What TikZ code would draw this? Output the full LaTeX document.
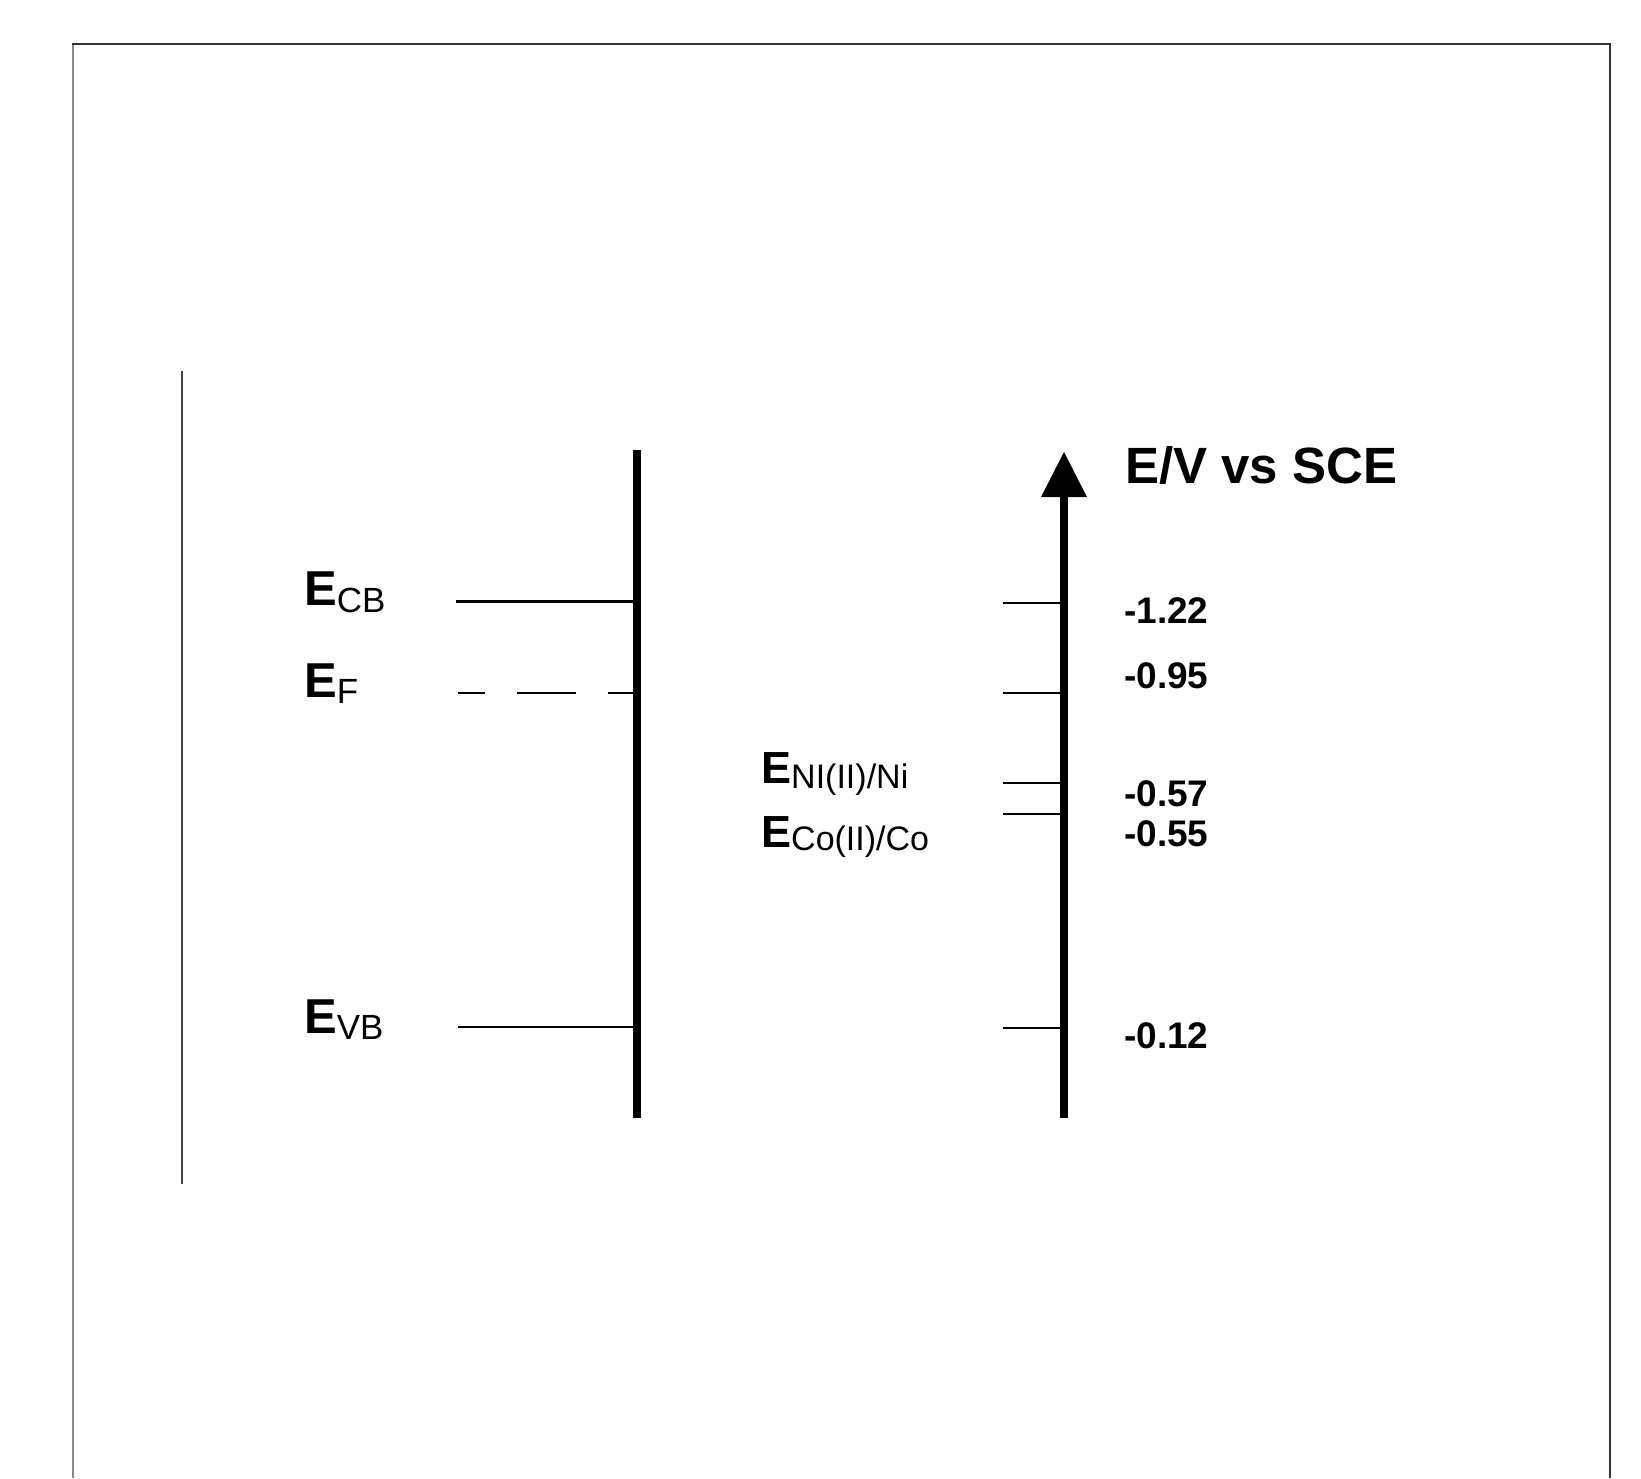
\documentclass[tikz,border=0pt]{standalone}
\usepackage{fontspec}
\setmainfont{Liberation Sans}
\begin{document}
\begin{tikzpicture}[x=1pt,y=-1pt,
  frameline/.style={line width=2pt},
  bandline/.style={line width=8pt},
  levelline/.style={line width=2pt},
  bigE/.style={anchor=base west,inner sep=0pt,font=\fontsize{49}{49}\selectfont\bfseries},
  ticklabel/.style={anchor=base west,inner sep=0pt,font=\fontsize{37}{37}\selectfont\bfseries},
  axislabel/.style={anchor=base west,inner sep=0pt,font=\fontsize{51}{51}\selectfont\bfseries}]
\useasboundingbox (0,0) rectangle (1641,1478);
\fill[white] (0,0) rectangle (1641,1478);
% frame
\draw[frameline,color={rgb,255:red,136;green,136;blue,136}] (73,44) -- (73,1478);
\draw[frameline,color={rgb,255:red,51;green,51;blue,51}] (72,44) -- (1610,44) -- (1610,1478);
% short vertical line
\draw[line width=2pt,color={rgb,255:red,68;green,68;blue,68}] (182,371) -- (182,1184);
% semiconductor band line
\coordinate (bt) at (637,450);
\coordinate (bb) at (637,1118);
\draw[bandline] (bt) -- (bb);
\coordinate (cbL) at (456,601);
\coordinate (cbR) at (637,601);
\draw[line width=3pt] (cbL) -- (cbR);
\coordinate (efL) at (458,693);
\coordinate (efR) at (637,693);
\draw[levelline,dash pattern=on 59pt off 32pt,dash phase=30pt] (efR) -- (efL);
\coordinate (vbL) at (458,1027);
\coordinate (vbR) at (637,1027);
\draw[levelline] (vbL) -- (vbR);
% labels left
\node[bigE] (lcb) at (304,605) {E\raisebox{-7pt}{\fontsize{35}{35}\selectfont\mdseries CB}};
\node[bigE] (lf) at (304,697) {E\raisebox{-6pt}{\fontsize{35}{35}\selectfont\mdseries F}};
\node[bigE] (lvb) at (304,1033) {E\raisebox{-6pt}{\fontsize{35}{35}\selectfont\mdseries VB}};
% right axis
\coordinate (at) at (1064,452);
\coordinate (ab) at (1064,1118);
\coordinate (ah) at (1064,496);
\draw[bandline] (ab) -- (ah);
\fill (1041,497) -- (at) -- (1087,497) -- cycle;
\node[axislabel] (axl) at (1125,483) {E/V vs SCE};
% ticks
\foreach \y/\n in {603/t1,693/t2,783/t3,814/t4,1028/t5}{
  \coordinate (\n L) at (1003,\y);
  \coordinate (\n R) at (1064,\y);
  \draw[levelline] (\n L) -- (\n R);
}
\node[ticklabel] (v1) at (1124,623) {-1.22};
\node[ticklabel] (v2) at (1124,688) {-0.95};
\node[ticklabel] (v3) at (1124,806) {-0.57};
\node[ticklabel] (v4) at (1124,846) {-0.55};
\node[ticklabel] (v5) at (1124,1048) {-0.12};
% redox labels
\node[anchor=base west,inner sep=0pt,font=\fontsize{45}{45}\selectfont\bfseries] (lni) at (761,783) {E\raisebox{-5pt}{\fontsize{34}{34}\selectfont\mdseries NI(II)/Ni}};
\node[anchor=base west,inner sep=0pt,font=\fontsize{45}{45}\selectfont\bfseries] (lco) at (761,847) {E\raisebox{-3pt}{\fontsize{34}{34}\selectfont\mdseries Co(II)/Co}};
\end{tikzpicture}
\end{document}
